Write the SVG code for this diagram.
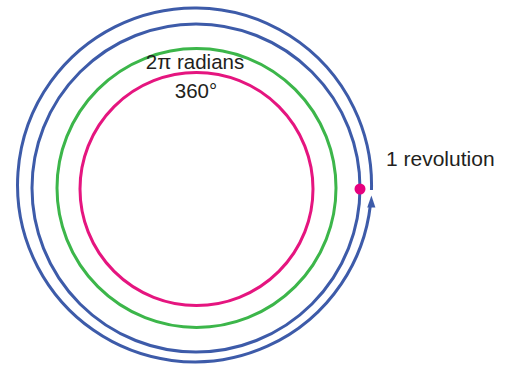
<svg xmlns="http://www.w3.org/2000/svg" width="510" height="367" viewBox="0 0 510 367">
<style>
.ring{fill:none;stroke-width:3}
.blue{stroke:#3d5ba9}
.green{stroke:#3cb64a}
.mag{stroke:#e5157f}
text{font-family:"Liberation Sans",Arial,sans-serif;fill:#231f20;font-size:20.5px}
</style>
<rect width="510" height="367" fill="#ffffff"/>
<g id="connectors">
<path id="revolution-arc" class="ring blue" d="M 371.47,190 A 177 177 0 1 0 370.4,205"/>
<polygon points="371.4,195.5 367.2,207.5 375.4,207.5" fill="#3d5ba9"/>
</g>
<g id="circle-blue">
<circle class="ring blue" cx="196" cy="188" r="164"/>
</g>
<g id="circle-green">
<circle class="ring green" cx="196.5" cy="188" r="139.5"/>
</g>
<g id="circle-magenta">
<circle class="ring mag" cx="196.5" cy="189" r="116.5"/>
</g>
<g id="start-dot">
<circle cx="360" cy="189" r="5.5" fill="#e6007e"/>
</g>
<g id="label-radians">
<text x="195" y="68.5" text-anchor="middle">2π radians</text>
<text x="196" y="97.5" text-anchor="middle">360°</text>
</g>
<g id="label-revolution">
<text x="386" y="166" style="font-size:21px">1 revolution</text>
</g>
</svg>
